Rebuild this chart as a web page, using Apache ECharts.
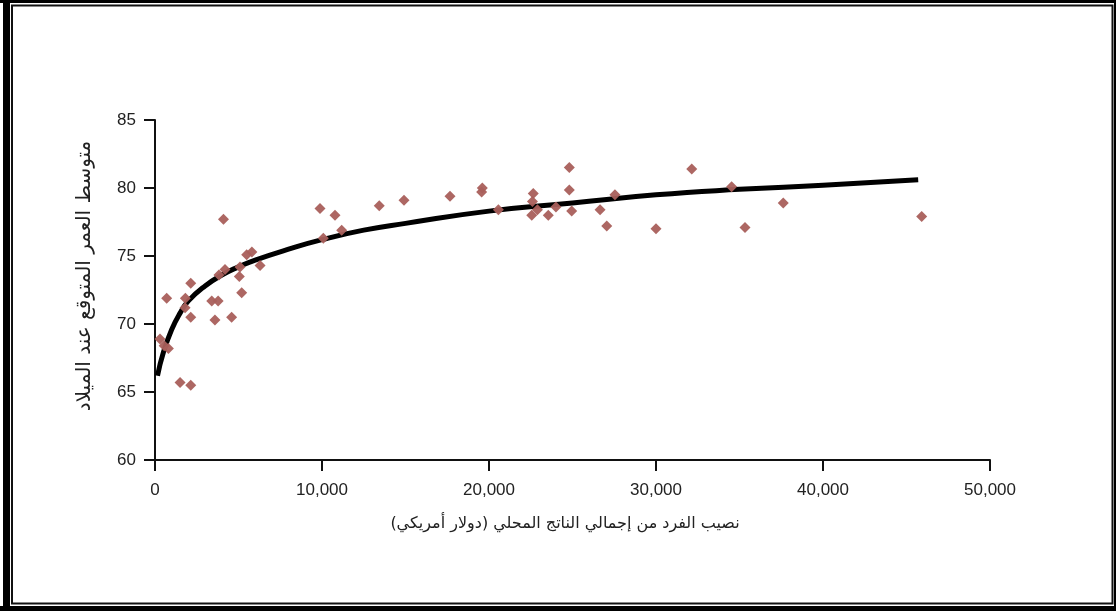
<!DOCTYPE html>
<html>
<head>
<meta charset="utf-8">
<script src="https://cdn.jsdelivr.net/npm/echarts@6/dist/echarts.min.js"></script>
<style>
  html, body { margin: 0; padding: 0; background: #ffffff; }
  #chart { width: 1116px; height: 611px; }
</style>
</head>
<body>
<div id="chart"></div>
<script>
// Per-capita GDP (US$) of each country
const gdpValues = [
  300, 550, 800, 700, 1500, 2140, 1820, 1800, 2140, 2140,
  3590, 3400, 3780, 4100, 3830, 4190, 4590, 5090, 5050, 5190,
  5490, 5800, 6290, 9880, 10780, 10080, 11180, 13430, 14910, 17665,
  19560, 19600, 20560, 22650, 22600, 22560, 22900, 23550, 24010, 24810,
  24810, 24950, 26650, 27050, 27540, 30000, 32140, 34530, 35330, 37620,
  45910
];
// Life expectancy at birth (years) of each country
const lifeValues = [
  68.9, 68.4, 68.2, 71.9, 65.7, 65.5, 71.9, 71.2, 73.0, 70.5,
  70.3, 71.7, 71.7, 77.7, 73.6, 74.0, 70.5, 74.2, 73.5, 72.3,
  75.1, 75.3, 74.3, 78.5, 78.0, 76.3, 76.9, 78.7, 79.1, 79.4,
  79.7, 80.0, 78.4, 79.6, 79.0, 78.0, 78.4, 78.0, 78.6, 81.5,
  79.85, 78.3, 78.4, 77.2, 79.5, 77.0, 81.4, 80.1, 77.1, 78.9,
  77.9
];
// Fitted trend curve
const trendGdp = [150, 500, 1000, 1500, 2000, 3000, 4000, 5000, 6000, 8000, 10000, 12500, 15000, 20000, 25000, 30000, 35000, 40000, 45700];
const trendLife = [66.2, 67.9, 69.6, 70.8, 71.7, 72.8, 73.6, 74.2, 74.7, 75.5, 76.2, 76.9, 77.4, 78.3, 78.9, 79.5, 79.9, 80.2, 80.6];

const xTicks = [0, 10000, 20000, 30000, 40000, 50000];
const yTicks = [60, 65, 70, 75, 80, 85];

const xTitle = 'نصيب الفرد من إجمالي الناتج المحلي (دولار أمريكي)';
const yTitle = 'متوسط العمر المتوقع عند الميلاد';

const points = gdpValues.map((g, i) => [g, lifeValues[i]]);
const trend = trendGdp.map((g, i) => [g, trendLife[i]]);

const chart = echarts.init(document.getElementById('chart'), null, { renderer: 'canvas' });

const tickFont = { fontFamily: 'Liberation Sans, Arial, sans-serif', fontSize: 17, color: '#222' };

chart.setOption({
  animation: false,
  backgroundColor: '#ffffff',
  grid: { left: 155, right: 126, top: 120, bottom: 151, containLabel: false },
  xAxis: {
    type: 'value',
    min: xTicks[0],
    max: xTicks[xTicks.length - 1],
    interval: xTicks[1] - xTicks[0],
    splitLine: { show: false },
    axisLine: { show: true, onZero: false, lineStyle: { color: '#111', width: 2 } },
    axisTick: { show: true, inside: false, length: 11, lineStyle: { color: '#111', width: 2 } },
    axisLabel: Object.assign({ margin: 22, formatter: v => v.toLocaleString('en-US') }, tickFont),
    name: xTitle,
    nameLocation: 'middle',
    nameGap: 56,
    nameTextStyle: { fontFamily: 'DejaVu Sans, sans-serif', fontSize: 16, color: '#222', padding: [0, 15, 0, 0] }
  },
  yAxis: {
    type: 'value',
    min: yTicks[0],
    max: yTicks[yTicks.length - 1],
    interval: yTicks[1] - yTicks[0],
    splitLine: { show: false },
    axisLine: { show: true, onZero: false, lineStyle: { color: '#111', width: 2 } },
    axisTick: { show: true, inside: false, length: 11, lineStyle: { color: '#111', width: 2 } },
    axisLabel: Object.assign({ margin: 19 }, tickFont),
    name: yTitle,
    nameLocation: 'middle',
    nameGap: 60,
    nameTextStyle: { fontFamily: 'DejaVu Sans, sans-serif', fontSize: 20, color: '#222', padding: [0, 0, 0, 28] }
  },
  series: [
    {
      type: 'line',
      data: trend,
      smooth: true,
      showSymbol: false,
      lineStyle: { color: '#000', width: 5 },
      z: 2
    },
    {
      type: 'scatter',
      data: points,
      symbol: 'diamond',
      symbolSize: 11,
      itemStyle: { color: '#a95f5b', opacity: 0.95 },
      z: 3
    }
  ],
  graphic: [
    // heavy outer frame
    { type: 'rect', shape: { x: 3, y: 0, width: 7, height: 611 }, style: { fill: '#000' }, silent: true },
    { type: 'rect', shape: { x: 0, y: 0, width: 1116, height: 3 }, style: { fill: '#000' }, silent: true },
    { type: 'rect', shape: { x: 1114, y: 0, width: 2, height: 611 }, style: { fill: '#000' }, silent: true },
    { type: 'rect', shape: { x: 0, y: 606, width: 1116, height: 5 }, style: { fill: '#000' }, silent: true },
    // thin inner frame
    { type: 'rect', shape: { x: 12, y: 5.5, width: 1100.5, height: 598 }, style: { fill: 'none', stroke: '#111', lineWidth: 2 }, silent: true }
  ]
});
</script>
</body>
</html>
